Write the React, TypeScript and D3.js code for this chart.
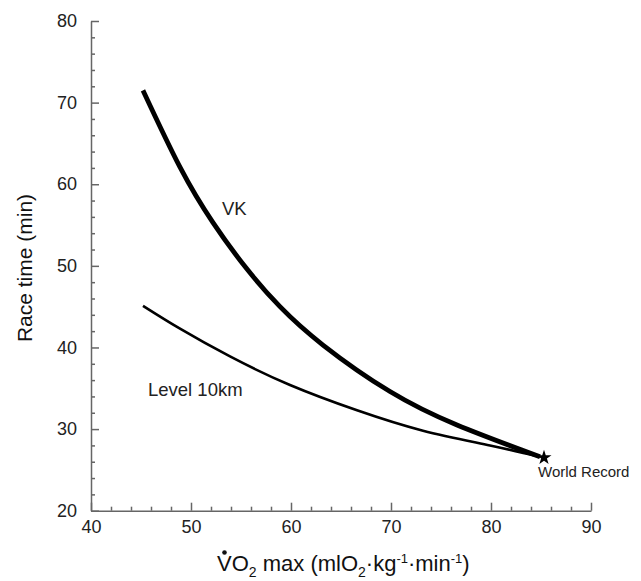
import React, { useEffect, useRef } from 'react';
import * as d3 from 'd3';

// VK curve (thick)
const vkX = [45.2, 48.9, 52.2, 55.6, 58.9, 63.2, 69.9, 76.6, 84.9];
const vkY = [71.5, 62.1, 55.3, 49.6, 45.0, 40.3, 34.6, 30.5, 26.6];

// Level 10km curve (thin)
const lvX = [45.2, 48.9, 53.9, 59.9, 66.6, 73.2, 79.9, 84.9];
const lvY = [45.1, 42.3, 38.9, 35.4, 32.3, 29.8, 28.0, 26.6];

const worldRecord = { x: 85.3, y: 26.5, label: 'World Record' };

const xTicks = [40, 50, 60, 70, 80, 90];
const yTicks = [20, 30, 40, 50, 60, 70, 80];

const FONT = '"Liberation Sans", Arial, Helvetica, sans-serif';
const AXIS_COLOR = '#666';

export default function App() {
  const ref = useRef<SVGSVGElement>(null);

  useEffect(() => {
    document.body.style.margin = '0';
    const svg = d3.select(ref.current);
    svg.selectAll('*').remove();

    const x = d3.scaleLinear().domain([40, 90]).range([91, 591]);
    const y = d3.scaleLinear().domain([20, 80]).range([510.7, 21]);

    // y axis
    svg.append('g').attr('transform', `translate(${x(40)},0)`)
      .call(d3.axisLeft(y).tickValues(yTicks).tickSizeInner(-8).tickSizeOuter(0).tickPadding(14));
    svg.append('g').attr('transform', `translate(${x(40)},0)`)
      .call(d3.axisLeft(y).tickValues(d3.range(20, 81, 2).filter(v => v % 10 !== 0))
        .tickSizeInner(-4).tickSizeOuter(0).tickFormat(() => ''))
      .select('.domain').remove();

    // x axis
    svg.append('g').attr('transform', `translate(0,${y(20)})`)
      .call(d3.axisBottom(x).tickValues(xTicks).tickSizeInner(-8).tickSizeOuter(0).tickPadding(10));
    svg.append('g').attr('transform', `translate(0,${y(20)})`)
      .call(d3.axisBottom(x).tickValues(d3.range(40, 91, 2).filter(v => v % 10 !== 0))
        .tickSizeInner(-4).tickSizeOuter(0).tickFormat(() => ''))
      .select('.domain').remove();

    svg.selectAll('.domain, .tick line')
      .attr('stroke', AXIS_COLOR)
      .attr('stroke-width', 1.5);
    svg.selectAll('.tick text')
      .attr('font-family', FONT)
      .attr('font-size', 18)
      .attr('fill', '#222');

    const line = d3.line<[number, number]>()
      .x(d => x(d[0]))
      .y(d => y(d[1]))
      .curve(d3.curveNatural);

    svg.append('path')
      .datum(lvX.map((v, i) => [v, lvY[i]] as [number, number]))
      .attr('d', line)
      .attr('fill', 'none')
      .attr('stroke', '#000')
      .attr('stroke-width', 2.6);

    svg.append('path')
      .datum(vkX.map((v, i) => [v, vkY[i]] as [number, number]))
      .attr('d', line)
      .attr('fill', 'none')
      .attr('stroke', '#000')
      .attr('stroke-width', 4.8);

    svg.append('path')
      .attr('d', d3.symbol().type(d3.symbolStar).size(70)())
      .attr('transform', `translate(${x(worldRecord.x)},${y(worldRecord.y)})`)
      .attr('fill', '#000');

    const label = (tx: number, ty: number, s: string, size: number) =>
      svg.append('text')
        .attr('x', tx).attr('y', ty)
        .attr('font-family', FONT).attr('font-size', size)
        .attr('fill', '#222')
        .text(s);

    label(x(worldRecord.x) - 6, y(worldRecord.y) + 19, worldRecord.label, 15);
    label(222, 215, 'VK', 18.5);
    label(148, 396, 'Level 10km', 18.5);

    // axis titles
    svg.append('text')
      .attr('transform', 'translate(32,268) rotate(-90)')
      .attr('text-anchor', 'middle')
      .attr('font-family', FONT).attr('font-size', 21)
      .attr('fill', '#111')
      .text('Race time (min)');

    const xt = svg.append('text')
      .attr('x', 217).attr('y', 571)
      .attr('font-family', FONT).attr('font-size', 22)
      .attr('fill', '#111');
    xt.append('tspan').text('VO');
    xt.append('tspan').attr('dy', 6).attr('font-size', 14).text('2');
    xt.append('tspan').attr('dy', -6).text(' max (mlO');
    xt.append('tspan').attr('dy', 6).attr('font-size', 14).text('2');
    xt.append('tspan').attr('dy', -6).text('·kg');
    xt.append('tspan').attr('dy', -8).attr('font-size', 13).text('-1');
    xt.append('tspan').attr('dy', 8).text('·min');
    xt.append('tspan').attr('dy', -8).attr('font-size', 13).text('-1');
    xt.append('tspan').attr('dy', 8).text(')');
    svg.append('circle').attr('cx', 224.5).attr('cy', 552.5).attr('r', 2.3).attr('fill', '#111');
  }, []);

  return <svg ref={ref} width={641} height={581} style={{ display: 'block', background: '#fff' }} />;
}
